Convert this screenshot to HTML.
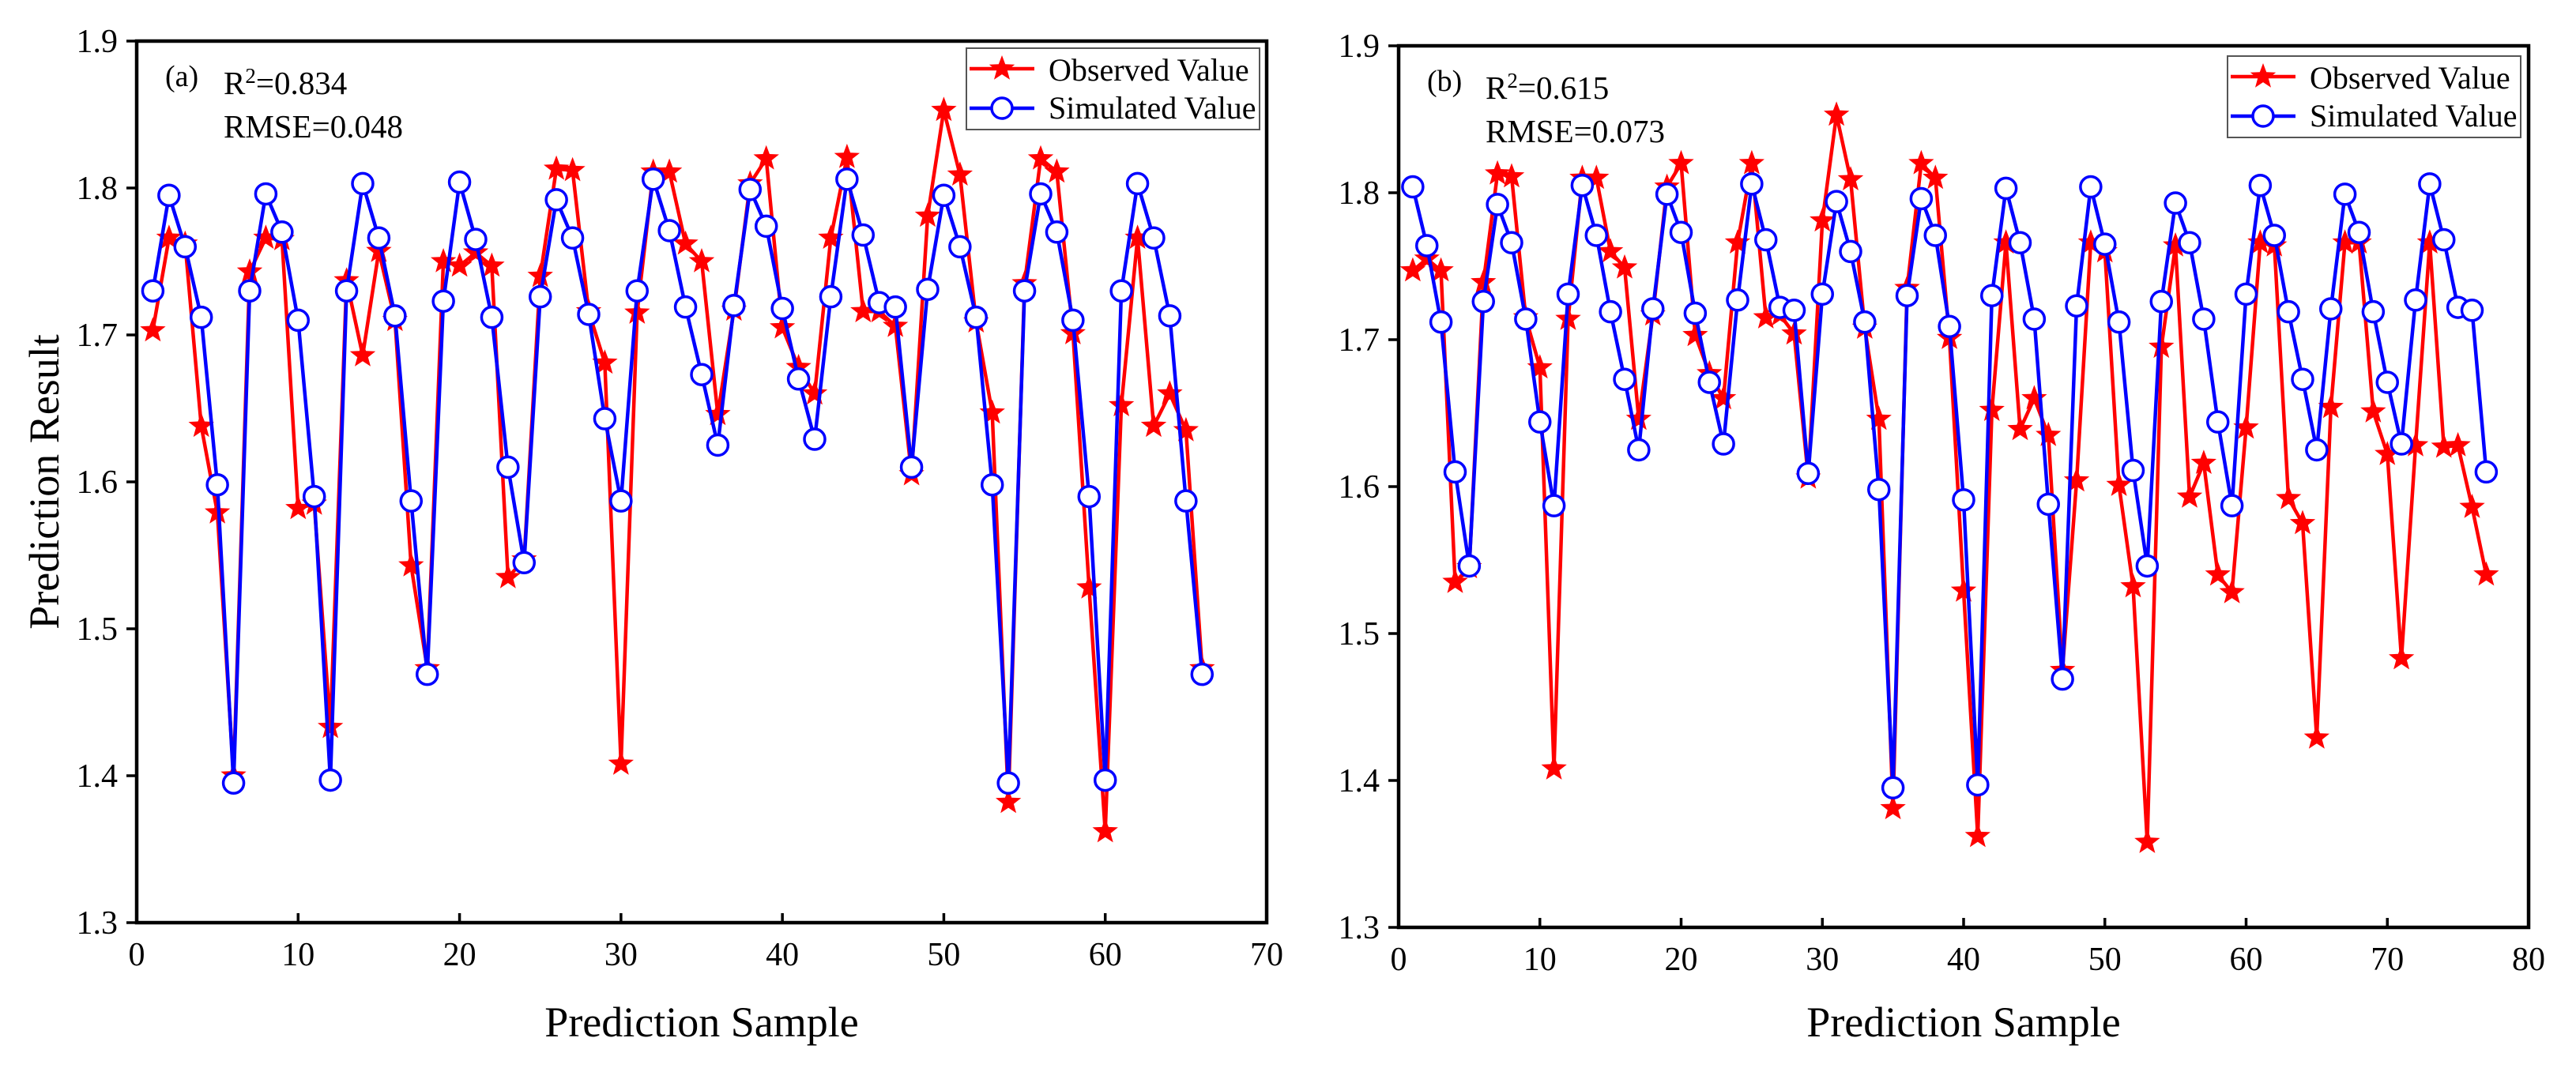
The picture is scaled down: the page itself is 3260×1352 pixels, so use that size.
<!DOCTYPE html>
<html><head><meta charset="utf-8"><style>
html,body{margin:0;padding:0;background:#fff;}
svg{display:block;font-family:"Liberation Serif",serif;}
</style></head><body>
<svg id="chart" width="3260" height="1352" viewBox="0 0 3260 1352" xmlns="http://www.w3.org/2000/svg"></svg>
<script>
const obsA=[1.703,1.766,1.762,1.638,1.579,1.400,1.743,1.766,1.765,1.582,1.585,1.433,1.737,1.686,1.757,1.710,1.543,1.473,1.750,1.747,1.756,1.747,1.535,1.547,1.740,1.813,1.812,1.716,1.681,1.408,1.715,1.811,1.811,1.762,1.750,1.646,1.717,1.803,1.820,1.705,1.678,1.660,1.766,1.821,1.716,1.716,1.706,1.605,1.781,1.853,1.809,1.709,1.647,1.382,1.735,1.820,1.811,1.701,1.528,1.362,1.652,1.766,1.638,1.660,1.635,1.473];
const simA=[1.730,1.795,1.760,1.712,1.598,1.395,1.730,1.796,1.770,1.710,1.590,1.397,1.730,1.803,1.766,1.713,1.587,1.469,1.723,1.804,1.765,1.712,1.610,1.545,1.726,1.792,1.766,1.714,1.643,1.587,1.730,1.806,1.771,1.719,1.673,1.625,1.720,1.799,1.774,1.718,1.670,1.629,1.726,1.806,1.768,1.722,1.719,1.610,1.731,1.795,1.760,1.712,1.598,1.395,1.730,1.796,1.770,1.710,1.590,1.397,1.730,1.803,1.766,1.713,1.587,1.469];
const obsB=[1.747,1.755,1.747,1.535,1.545,1.739,1.813,1.811,1.715,1.681,1.408,1.714,1.810,1.810,1.760,1.749,1.646,1.717,1.804,1.820,1.703,1.677,1.660,1.766,1.820,1.715,1.717,1.704,1.606,1.781,1.853,1.809,1.708,1.646,1.381,1.735,1.820,1.810,1.701,1.529,1.362,1.652,1.766,1.639,1.660,1.635,1.475,1.604,1.766,1.760,1.601,1.532,1.358,1.695,1.764,1.593,1.616,1.540,1.528,1.640,1.766,1.764,1.592,1.575,1.429,1.654,1.766,1.766,1.651,1.622,1.483,1.628,1.766,1.627,1.628,1.586,1.540];
const simB=[1.804,1.764,1.712,1.610,1.546,1.726,1.792,1.766,1.714,1.644,1.587,1.731,1.805,1.771,1.719,1.673,1.625,1.721,1.799,1.773,1.718,1.671,1.629,1.727,1.806,1.768,1.722,1.720,1.609,1.731,1.794,1.760,1.712,1.598,1.395,1.730,1.796,1.771,1.709,1.591,1.397,1.730,1.803,1.766,1.714,1.588,1.469,1.723,1.804,1.765,1.712,1.611,1.546,1.726,1.793,1.766,1.714,1.644,1.587,1.731,1.805,1.771,1.719,1.673,1.625,1.721,1.799,1.773,1.719,1.671,1.629,1.727,1.806,1.768,1.722,1.720,1.610];
const yTicks=[1.3,1.4,1.5,1.6,1.7,1.8,1.9];
const xTicksA=[0,10,20,30,40,50,60,70];
const xTicksB=[0,10,20,30,40,50,60,70,80];
const legendLabels=["Observed Value","Simulated Value"];

const NS="http://www.w3.org/2000/svg";
const svg=document.getElementById('chart');
function mk(tag,attrs,parent,text){const e=document.createElementNS(NS,tag);for(const k in attrs)e.setAttribute(k,attrs[k]);if(text!==undefined)e.textContent=text;(parent||svg).appendChild(e);return e;}
function starPts(cx,cy,R){const r=R*0.42;let p=[];for(let i=0;i<10;i++){const a=-Math.PI/2+i*Math.PI/5;const rr=i%2?r:R;p.push((cx+rr*Math.cos(a)).toFixed(1)+','+(cy+rr*Math.sin(a)).toFixed(1));}return p.join(' ');}

function panel(cfg){
  const g=mk('g',{});
  
  
  const X=v=>cfg.x0+(v-cfg.xmin)/(cfg.xmax-cfg.xmin)*(cfg.x1-cfg.x0);
  const Y=v=>cfg.y1-(v-1.3)/(0.6)*(cfg.y1-cfg.y0);
  yTicks.forEach(t=>{
    const l=mk('line',{x1:cfg.x0-13,x2:cfg.x0,y1:Y(t),y2:Y(t),stroke:'#000','stroke-width':3.5},g);
    
    
    const tx=mk('text',{x:cfg.x0-24,y:Y(t)+14,'text-anchor':'end','font-size':42,fill:'#000'},g,t.toFixed(1));
    
    
  });
  cfg.xt.forEach(t=>{
    const l=mk('line',{x1:X(t),x2:X(t),y1:cfg.y1,y2:cfg.y1-12,stroke:'#000','stroke-width':3.5},g);
    
    
    const tx=mk('text',{x:X(t),y:cfg.y1+54,'text-anchor':'middle','font-size':42,fill:'#000'},g,String(t));
    
    
  });
  const po=cfg.obs.map((v,i)=>X(i+1).toFixed(1)+','+Y(v).toFixed(1)).join(' ');
  const lo=mk('polyline',{points:po,fill:'none',stroke:'#ff0000','stroke-width':4.5,'stroke-linejoin':'round'},g);
  
  
  cfg.obs.forEach((v,i)=>{
    const s=mk('polygon',{points:starPts(X(i+1),Y(v),17),fill:'#ff0000'},g);
    
    
  });
  const ps=cfg.sim.map((v,i)=>X(i+1).toFixed(1)+','+Y(v).toFixed(1)).join(' ');
  const ls=mk('polyline',{points:ps,fill:'none',stroke:'#0000ff','stroke-width':4.5,'stroke-linejoin':'round'},g);
  
  
  cfg.sim.forEach((v,i)=>{
    const c=mk('circle',{cx:X(i+1),cy:Y(v),r:13,fill:'#fff',stroke:'#0000ff','stroke-width':3.5},g);
    
    
  });
  const f=mk('rect',{x:cfg.x0,y:cfg.y0,width:cfg.x1-cfg.x0,height:cfg.y1-cfg.y0,fill:'none',stroke:'#000','stroke-width':4.5},g);
  
  
  const a1=mk('text',{x:cfg.x0+36,y:cfg.y0+57,'font-size':38,fill:'#000'},g,cfg.tag);
  
  
  const a2=mk('text',{x:cfg.x0+110,y:cfg.y0+67,'font-size':41,fill:'#000'},g);
  
  
  mk('tspan',{},a2,'R');
  mk('tspan',{dy:-14,'font-size':27},a2,'2');
  mk('tspan',{dy:14},a2,'='+cfg.r2);
  const a3=mk('text',{x:cfg.x0+110,y:cfg.y0+122,'font-size':41,fill:'#000'},g,'RMSE='+cfg.rmse);
  
  
  const lg=mk('g',{},g);
  
  
  const lx=cfg.lx, ly=cfg.ly;
  mk('rect',{x:lx,y:ly,width:371,height:103,fill:'#fff',stroke:'#555','stroke-width':2},lg);
  const e1=mk('g',{},lg);
  
  
  mk('line',{x1:lx+4,x2:lx+86,y1:ly+26,y2:ly+26,stroke:'#ff0000','stroke-width':4.5},e1);
  mk('polygon',{points:starPts(lx+45,ly+26,17),fill:'#ff0000'},e1);
  mk('text',{x:lx+104,y:ly+41,'font-size':40,fill:'#000'},e1,legendLabels[0]);
  const e2=mk('g',{},lg);
  
  
  mk('line',{x1:lx+4,x2:lx+86,y1:ly+76,y2:ly+76,stroke:'#0000ff','stroke-width':4.5},e2);
  mk('circle',{cx:lx+45,cy:ly+76,r:13,fill:'#fff',stroke:'#0000ff','stroke-width':3.5},e2);
  mk('text',{x:lx+104,y:ly+89,'font-size':40,fill:'#000'},e2,legendLabels[1]);
  const xt=mk('text',{x:(cfg.x0+cfg.x1)/2,y:1312,'text-anchor':'middle','font-size':54,fill:'#000'},g,'Prediction Sample');
  
  
}
panel({name:'panel-a',x0:173,x1:1603,y0:52,y1:1168,xmin:0,xmax:70,xt:xTicksA,obs:obsA,sim:simA,tag:'(a)',r2:'0.834',rmse:'0.048',lx:1223,ly:61});
panel({name:'panel-b',x0:1770,x1:3200,y0:58,y1:1174,xmin:0,xmax:80,xt:xTicksB,obs:obsB,sim:simB,tag:'(b)',r2:'0.615',rmse:'0.073',lx:2819,ly:71});
const yt=mk('text',{x:0,y:0,'text-anchor':'middle','font-size':54,fill:'#000',transform:'translate(74,610) rotate(-90)'});


yt.textContent='Prediction Result';
</script>
</body></html>
